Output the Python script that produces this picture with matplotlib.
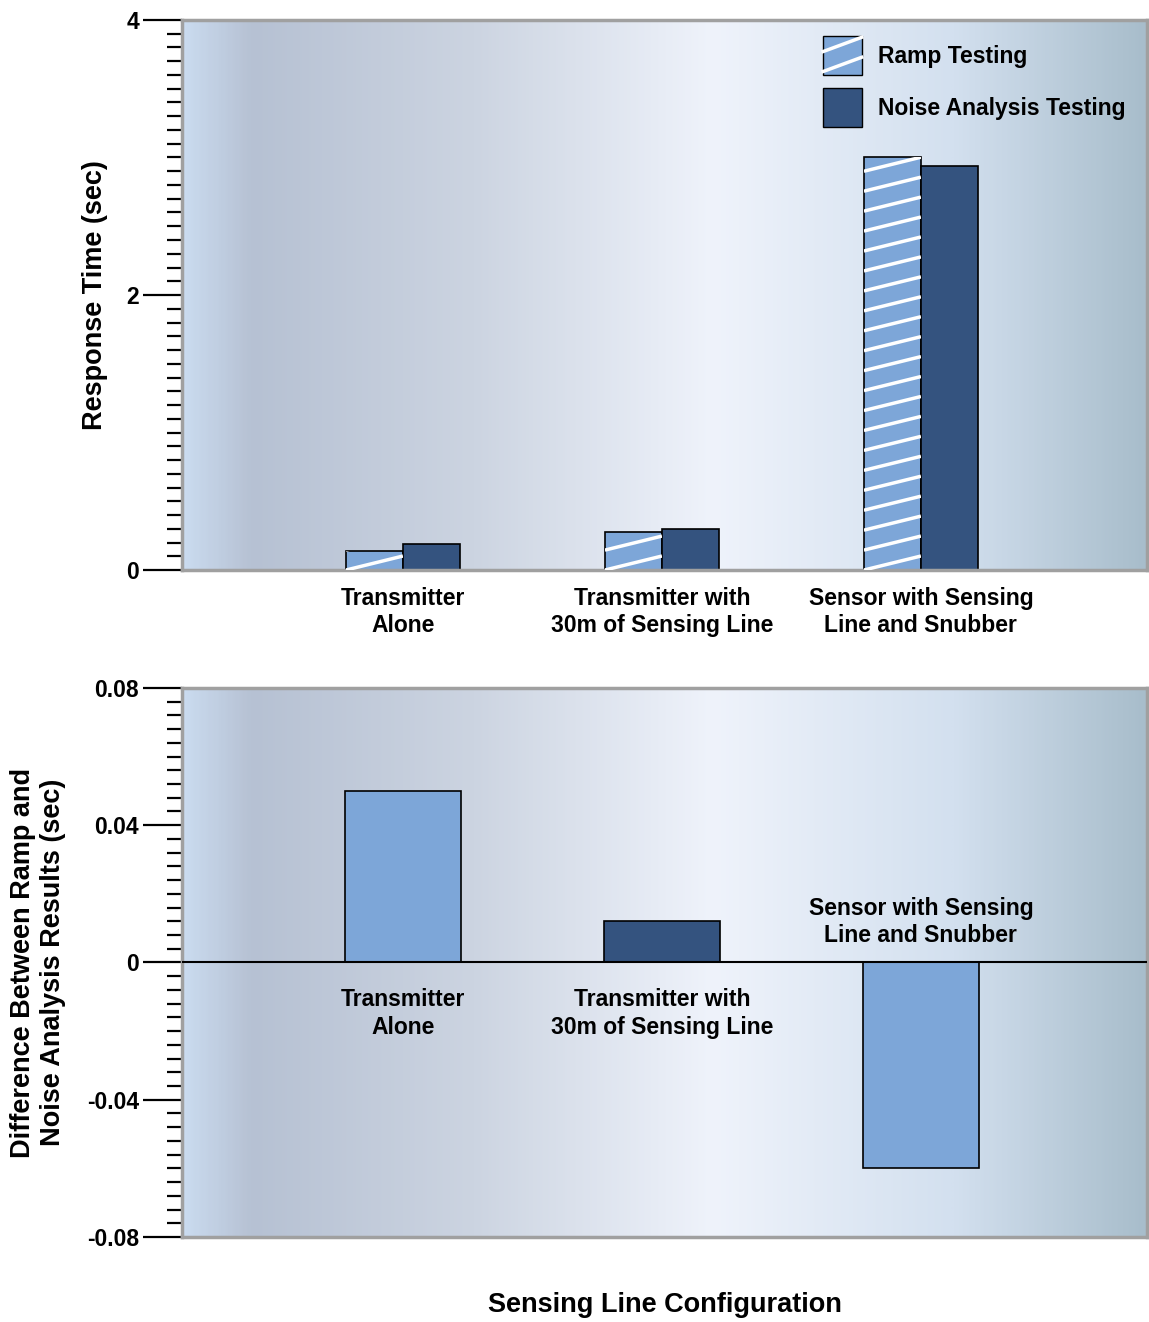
import matplotlib
matplotlib.use('Agg')
import matplotlib.pyplot as plt
import numpy as np
from matplotlib.colors import LinearSegmentedColormap
from matplotlib.patches import Patch, Rectangle
from matplotlib.lines import Line2D
from matplotlib.legend_handler import HandlerBase
from matplotlib.ticker import MultipleLocator

plt.rcParams.update({
    'font.family': ['Liberation Sans', 'DejaVu Sans'], 'font.weight': 'bold',
    'axes.labelweight': 'bold',
})

LIGHT, DARK, SPINE = '#7DA6D8', '#34537F', '#A0A0A0'

# data
categories = ['Transmitter\nAlone', 'Transmitter with\n30m of Sensing Line', 'Sensor with Sensing\nLine and Snubber']
ramp = [0.14, 0.28, 3.0]
noise = [0.19, 0.30, 2.94]
diff = [0.050, 0.012, -0.060]
diff_colors = [LIGHT, DARK, LIGHT]

bg_cmap = LinearSegmentedColormap.from_list('bg', [
    (0.0, '#CADBEF'), (0.07, '#B6C1D3'), (0.3, '#CCD4E1'), (0.55, '#EFF3FB'),
    (0.8, '#D3E0EF'), (1.0, '#A8BDCB')])

def background(ax):
    grad = np.tile(np.linspace(0, 1, 400), (2, 1))
    ax.imshow(grad, cmap=bg_cmap, extent=[0, 1, 0, 1], transform=ax.transAxes,
              aspect='auto', zorder=0, interpolation='bilinear')

def style(ax):
    for s in ax.spines.values():
        s.set_color(SPINE); s.set_linewidth(2.5)
    ax.tick_params(axis='y', which='major', length=28, width=1.6, color='black', labelsize=16.5, pad=3)
    ax.tick_params(axis='y', which='minor', length=11, width=1.6, color='black')
    ax.tick_params(axis='x', length=0)

class RampHandler(HandlerBase):
    # light box with two shallow white stripes, like the bars
    def create_artists(self, legend, orig_handle, xd, yd, width, height, fontsize, trans):
        x0, y0 = -xd, -yd
        r = Rectangle((x0, y0), width, height, facecolor=LIGHT, edgecolor='black', lw=1, transform=trans)
        l1 = Line2D([x0, x0 + width], [y0 + 0.6*height, y0 + 0.97*height], color='white', lw=2.5, transform=trans)
        l2 = Line2D([x0, x0 + width], [y0 + 0.08*height, y0 + 0.45*height], color='white', lw=2.5, transform=trans)
        return [r, l1, l2]

fig = plt.figure(figsize=(11.49, 13.22), dpi=100)
ax1 = fig.add_axes([0.1584, 0.5688, 0.8399, 0.4161])
ax2 = fig.add_axes([0.1584, 0.0643, 0.8399, 0.4153])

x = np.arange(len(categories))
w = 0.22
xlim = (-0.853, 2.873)

# ---- top: response times ----
background(ax1)
rb = ax1.bar(x - w/2, ramp, w, color=LIGHT, edgecolor='black', linewidth=1.2, zorder=2)
ax1.bar(x + w/2, noise, w, color=DARK, edgecolor='black', linewidth=1.2, zorder=2)
# shallow white hatch lines on the ramp bars
for b in rb:
    x0, x1, h = b.get_x(), b.get_x() + b.get_width(), b.get_height()
    for y0 in np.arange(-0.145, h + 0.145, 0.145):
        ln, = ax1.plot([x0, x1], [y0, y0 + 0.102], color='white', lw=2.5, zorder=3, solid_capstyle='butt')
        ln.set_clip_path(b)
ax1.set_xlim(*xlim); ax1.set_ylim(0, 4)
ax1.yaxis.set_major_locator(MultipleLocator(2)); ax1.yaxis.set_minor_locator(MultipleLocator(0.1))
ax1.yaxis.set_major_formatter(lambda v, p: f'{v:.0f}')
ax1.set_xticks(x); ax1.set_xticklabels(categories, fontsize=16.5, linespacing=1.25)
ax1.tick_params(axis='x', pad=12)
style(ax1)
ax1.set_ylabel('Response Time (sec)', fontsize=19.5)
ax1.yaxis.label.set_va('center'); ax1.yaxis.set_label_coords(-0.090, 0.5)
ramp_h = Patch(facecolor=LIGHT, edgecolor='black')
handles = [ramp_h, Patch(facecolor=DARK, edgecolor='black', lw=1)]
ax1.legend(handles, ['Ramp Testing', 'Noise Analysis Testing'], loc='upper left',
           bbox_to_anchor=(0.643, 1.008), frameon=False, fontsize=16.5,
           handlelength=1.68, handleheight=2.2, labelspacing=0.6, handletextpad=0.7,
           handler_map={ramp_h: RampHandler()})

# ---- bottom: differences ----
background(ax2)
ax2.bar(x, diff, 2*w + 0.01, color=diff_colors, edgecolor='black', linewidth=1.2, zorder=2)
ax2.axhline(0, color='black', lw=1.5, zorder=3)
ax2.set_xlim(*xlim); ax2.set_ylim(-0.08, 0.08)
ax2.yaxis.set_major_locator(MultipleLocator(0.04)); ax2.yaxis.set_minor_locator(MultipleLocator(0.004))
ax2.yaxis.set_major_formatter(lambda v, p: '0' if abs(v) < 1e-9 else f'{v:.2f}')
ax2.set_xticks([])
style(ax2)
for xi, d, lab in zip(x, diff, categories):
    if d >= 0:
        ax2.text(xi, -0.0075, lab, ha='center', va='top', fontsize=16.5, linespacing=1.25, zorder=4)
    else:
        ax2.text(xi, 0.0045, lab, ha='center', va='bottom', fontsize=16.5, linespacing=1.25, zorder=4)
ax2.set_ylabel('Difference Between Ramp and\nNoise Analysis Results (sec)', fontsize=19.5, linespacing=1.2)
ax2.yaxis.label.set_va('center'); ax2.yaxis.set_label_coords(-0.149, 0.5)

fig.text(0.5783, 0.0125, 'Sensing Line Configuration', ha='center', va='center', fontsize=19.5, fontweight='bold')

fig.savefig('out.png', dpi=100)
